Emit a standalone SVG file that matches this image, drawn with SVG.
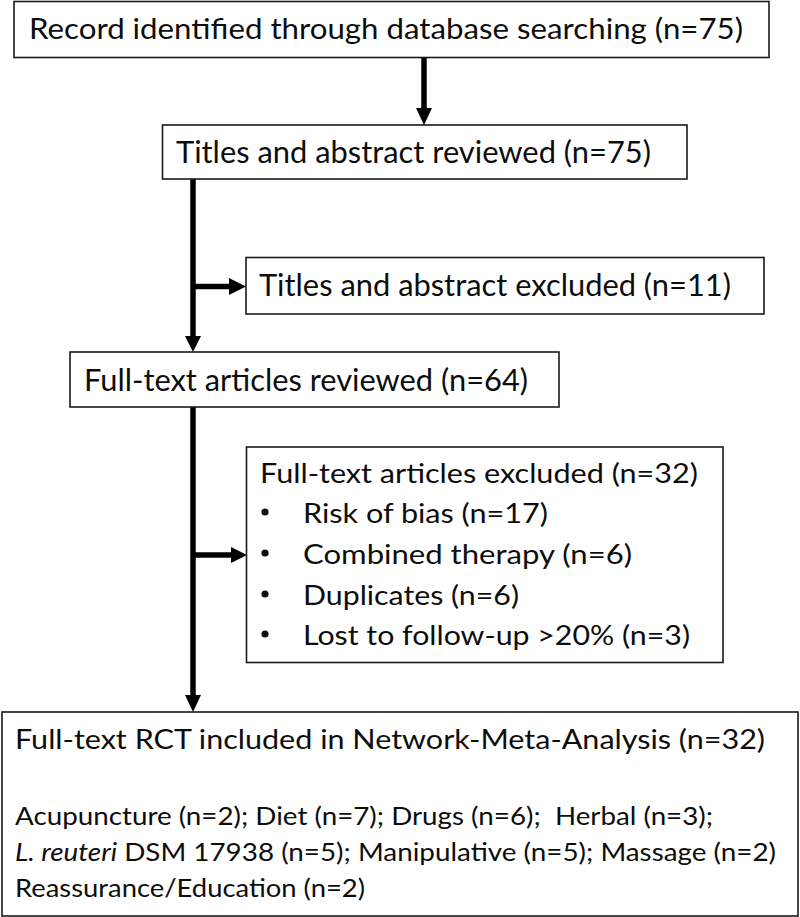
<svg xmlns="http://www.w3.org/2000/svg" width="800" height="917" viewBox="0 0 800 917">
<style>
  .box { fill: #ffffff; stroke: #1a1a1a; stroke-width: 1.6; }
  .t { font-family: "Lato", "Liberation Sans", sans-serif; fill: #0d0d0d; }
  .f1 { font-size: 28.5px; }
  .f2 { font-size: 30px; }
  .f5 { font-size: 27px; }
  .f6 { font-size: 27px; }
  .f6b { font-size: 25px; }
  .shaft { stroke: #000; stroke-width: 5.5; fill: none; }
  .head { fill: #000; }
</style>
<rect width="800" height="917" fill="#ffffff"/>

<g id="connectors">
  <line class="shaft" x1="424" y1="57" x2="424" y2="109"/>
  <polygon class="head" points="416,108 432,108 424,125"/>
  <line class="shaft" x1="193" y1="179" x2="193" y2="337"/>
  <polygon class="head" points="185,336 201,336 193,352"/>
  <line class="shaft" x1="193" y1="286.5" x2="230" y2="286.5"/>
  <polygon class="head" points="229,278 229,295 246,286.5"/>
  <line class="shaft" x1="193" y1="407" x2="193" y2="696"/>
  <polygon class="head" points="185,695 201,695 193,712"/>
  <line class="shaft" x1="193" y1="555" x2="232" y2="555"/>
  <polygon class="head" points="231,547 231,563 247,555"/>
</g>

<g id="node-records">
  <rect class="box" x="14" y="1.5" width="755" height="56"/>
  <text class="t f1" x="29" y="39" textLength="714" lengthAdjust="spacingAndGlyphs">Record identified through database searching (n=75)</text>
</g>

<g id="node-titles-reviewed">
  <rect class="box" x="162.5" y="125" width="524.5" height="54"/>
  <text class="t f2" x="176" y="163" textLength="475" lengthAdjust="spacingAndGlyphs">Titles and abstract reviewed (n=75)</text>
</g>

<g id="node-titles-excluded">
  <rect class="box" x="246" y="257.5" width="518" height="56.5"/>
  <text class="t f2" x="259" y="296" textLength="472" lengthAdjust="spacingAndGlyphs">Titles and abstract excluded (n=11)</text>
</g>

<g id="node-fulltext-reviewed">
  <rect class="box" x="70" y="352" width="489" height="55"/>
  <text class="t f2" x="84" y="391" textLength="444" lengthAdjust="spacingAndGlyphs">Full-text articles reviewed (n=64)</text>
</g>

<g id="node-fulltext-excluded">
  <rect class="box" x="246.5" y="447" width="476.5" height="215.5"/>
  <text class="t f5" x="260" y="483" textLength="438" lengthAdjust="spacingAndGlyphs">Full-text articles excluded (n=32)</text>
  <circle cx="265" cy="512" r="3.6" fill="#0d0d0d"/>
  <text class="t f5" x="303" y="523" textLength="245" lengthAdjust="spacingAndGlyphs">Risk of bias (n=17)</text>
  <circle cx="265" cy="553" r="3.6" fill="#0d0d0d"/>
  <text class="t f5" x="303" y="564" textLength="329" lengthAdjust="spacingAndGlyphs">Combined therapy (n=6)</text>
  <circle cx="265" cy="594" r="3.6" fill="#0d0d0d"/>
  <text class="t f5" x="303" y="605" textLength="216" lengthAdjust="spacingAndGlyphs">Duplicates (n=6)</text>
  <circle cx="265" cy="634" r="3.6" fill="#0d0d0d"/>
  <text class="t f5" x="303" y="645" textLength="387" lengthAdjust="spacingAndGlyphs">Lost to follow-up &gt;20% (n=3)</text>
</g>

<g id="node-included">
  <rect class="box" x="2" y="712" width="796" height="204"/>
  <text class="t f6" x="15" y="749" textLength="750" lengthAdjust="spacingAndGlyphs">Full-text RCT included in Network-Meta-Analysis (n=32)</text>
  <text class="t f6b" x="15" y="825" textLength="698" lengthAdjust="spacingAndGlyphs" xml:space="preserve">Acupuncture (n=2); Diet (n=7); Drugs (n=6);  Herbal (n=3);</text>
  <text class="t f6b" x="15" y="861" textLength="761" lengthAdjust="spacingAndGlyphs"><tspan font-style="italic">L. reuteri</tspan> DSM 17938 (n=5); Manipulative (n=5); Massage (n=2)</text>
  <text class="t f6b" x="15" y="897" textLength="350" lengthAdjust="spacingAndGlyphs">Reassurance/Education (n=2)</text>
</g>
</svg>
